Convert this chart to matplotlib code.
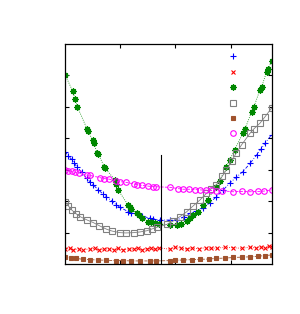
import matplotlib
matplotlib.use("Agg")
from matplotlib import pyplot as plt
from matplotlib.lines import Line2D

# blue "+" series
blue_x = [0.00, 0.05, 0.12, 0.16, 0.21, 0.30, 0.39, 0.45, 0.51, 0.60, 0.68, 0.75, 0.85, 0.93, 1.00,
          1.14, 1.20, 1.33, 1.40, 1.54, 1.60, 1.72, 1.90, 2.02, 2.15, 2.26, 2.38, 2.50, 2.62, 2.74,
          2.86, 2.98, 3.10, 3.22, 3.35, 3.47, 3.55, 3.62, 3.74]
blue_y = [3.58, 3.45, 3.33, 3.22, 3.10, 2.92, 2.73, 2.62, 2.52, 2.36, 2.24, 2.14, 2.00, 1.88, 1.80,
          1.67, 1.63, 1.56, 1.52, 1.46, 1.44, 1.40, 1.40, 1.40, 1.50, 1.61, 1.68, 1.77, 1.95, 2.14,
          2.35, 2.57, 2.76, 2.94, 3.20, 3.47, 3.66, 3.84, 4.11]

# red "x" series
red_x = [0.00, 0.08, 0.15, 0.25, 0.33, 0.45, 0.55, 0.62, 0.70, 0.80, 0.88, 0.95, 1.05, 1.15, 1.25,
         1.32, 1.40, 1.48, 1.55, 1.62, 1.70, 1.90, 2.00, 2.10, 2.20, 2.30, 2.42, 2.55, 2.65, 2.75,
         2.90, 3.05, 3.20, 3.35, 3.45, 3.55, 3.62, 3.70, 3.74]
red_y = [0.47, 0.50, 0.45, 0.49, 0.46, 0.48, 0.50, 0.45, 0.47, 0.49, 0.46, 0.50, 0.45, 0.48, 0.47,
         0.51, 0.46, 0.49, 0.50, 0.47, 0.52, 0.47, 0.55, 0.50, 0.48, 0.51, 0.49, 0.52, 0.50, 0.51,
         0.53, 0.52, 0.50, 0.54, 0.51, 0.55, 0.52, 0.56, 0.53]

# green asterisk series
green_x = [0.00, 0.14, 0.18, 0.22, 0.40, 0.42, 0.50, 0.52, 0.58, 0.60, 0.71, 0.73, 0.90, 0.93, 0.96,
           1.14, 1.17, 1.20, 1.30, 1.34, 1.40, 1.51, 1.55, 1.63, 1.70, 1.90, 2.02, 2.10, 2.20, 2.26,
           2.32, 2.40, 2.50, 2.58, 2.74, 2.80, 2.92, 2.98, 3.07, 3.22, 3.26, 3.38, 3.42, 3.53, 3.56,
           3.65, 3.68, 3.74]
green_y = [6.02, 5.49, 5.25, 5.01, 4.29, 4.22, 3.93, 3.85, 3.53, 3.50, 3.10, 3.04, 2.68, 2.55, 2.36,
           1.88, 1.80, 1.75, 1.62, 1.55, 1.48, 1.35, 1.33, 1.31, 1.29, 1.24, 1.24, 1.28, 1.38, 1.46,
           1.55, 1.66, 1.88, 2.05, 2.46, 2.65, 3.10, 3.30, 3.63, 4.16, 4.30, 4.85, 5.00, 5.54, 5.62,
           6.12, 6.20, 6.47]

# gray open squares
gray_x = [0.00, 0.06, 0.12, 0.20, 0.27, 0.40, 0.51, 0.62, 0.75, 0.85, 0.99, 1.10, 1.24, 1.35, 1.48,
          1.58, 1.66, 1.84, 1.95, 2.08, 2.20, 2.32, 2.45, 2.56, 2.65, 2.74, 2.85, 2.92, 3.02, 3.10,
          3.20, 3.35, 3.42, 3.53, 3.62, 3.74]
gray_y = [1.98, 1.85, 1.72, 1.60, 1.51, 1.40, 1.32, 1.22, 1.11, 1.05, 1.00, 0.99, 1.00, 1.02, 1.06,
          1.12, 1.17, 1.26, 1.36, 1.51, 1.66, 1.85, 2.05, 2.25, 2.40, 2.52, 2.80, 2.99, 3.28, 3.53,
          3.80, 4.16, 4.30, 4.48, 4.68, 4.96]

# brown filled squares
brown_x = [0.00, 0.10, 0.20, 0.33, 0.45, 0.60, 0.75, 0.93, 1.05, 1.20, 1.35, 1.54, 1.65, 1.90, 2.00,
           2.14, 2.30, 2.45, 2.60, 2.74, 2.90, 3.05, 3.20, 3.35, 3.50, 3.62, 3.74]
brown_y = [0.23, 0.20, 0.18, 0.15, 0.14, 0.13, 0.12, 0.11, 0.11, 0.10, 0.10, 0.10, 0.10, 0.11, 0.12,
           0.13, 0.14, 0.15, 0.16, 0.18, 0.19, 0.21, 0.22, 0.23, 0.25, 0.27, 0.29]

# magenta open circles
mag_x = [0.00, 0.06, 0.12, 0.18, 0.25, 0.39, 0.45, 0.63, 0.70, 0.80, 0.93, 1.00, 1.10, 1.24, 1.30,
         1.40, 1.50, 1.60, 1.65, 1.90, 2.05, 2.14, 2.25, 2.35, 2.44, 2.55, 2.65, 2.74, 2.85, 3.04,
         3.20, 3.35, 3.50, 3.60, 3.74]
mag_y = [2.99, 2.96, 2.95, 2.92, 2.90, 2.83, 2.82, 2.75, 2.72, 2.70, 2.64, 2.62, 2.60, 2.55, 2.53,
         2.50, 2.48, 2.46, 2.46, 2.44, 2.40, 2.38, 2.38, 2.37, 2.36, 2.35, 2.34, 2.33, 2.33, 2.30,
         2.31, 2.30, 2.31, 2.32, 2.36]

divider_x = 1.74
divider_top = 3.47

series = [
    (blue_x, blue_y, dict(color="#0000ff", marker="+", ls=(0, (4, 2, 1, 2)), ms=4, mew=0.8)),
    (red_x, red_y, dict(color="#ff0000", marker="x", ls=":", ms=3.5, mew=0.8)),
    (green_x, green_y, dict(color="#008800", marker=(8, 2, 0), ls=":", ms=4.5, mew=0.9)),
    (gray_x, gray_y, dict(color="#808080", marker="s", ls="-", ms=4, mew=0.8, mfc="none")),
    (brown_x, brown_y, dict(color="#a0522d", marker="s", ls="--", ms=3.5, mew=0.8)),
    (mag_x, mag_y, dict(color="#ff00ff", marker="o", ls="--", ms=4, mew=0.8, mfc="none")),
]

fig = plt.figure(figsize=(3.0, 3.14), dpi=100)
ax = fig.add_axes([0.217, 0.159, 0.69, 0.701])

handles = []
for xs, ys, st in series:
    ax.plot(xs, ys, lw=0.6, **st)
    h = dict(st)
    h.pop("ls")
    handles.append(Line2D([], [], ls="none", **h))

ax.plot([divider_x, divider_x], [0, divider_top], color="black", lw=0.8)

ax.set_xlim(0, 3.75)
ax.set_ylim(0, 7)
ax.set_xticks([1, 2, 3])
ax.set_yticks([1, 2, 3, 4, 5, 6])
ax.tick_params(direction="in", length=3, width=0.8, top=True, right=True,
               labelbottom=False, labelleft=False)
for s in ax.spines.values():
    s.set_linewidth(0.9)

ax.legend(handles, [""] * len(handles), loc="upper left", bbox_to_anchor=(0.79, 0.964),
          frameon=False, handlelength=1.0, labelspacing=0.55, fontsize=7,
          borderaxespad=0, borderpad=0, handletextpad=0)

plt.savefig("out.png", dpi=100)
